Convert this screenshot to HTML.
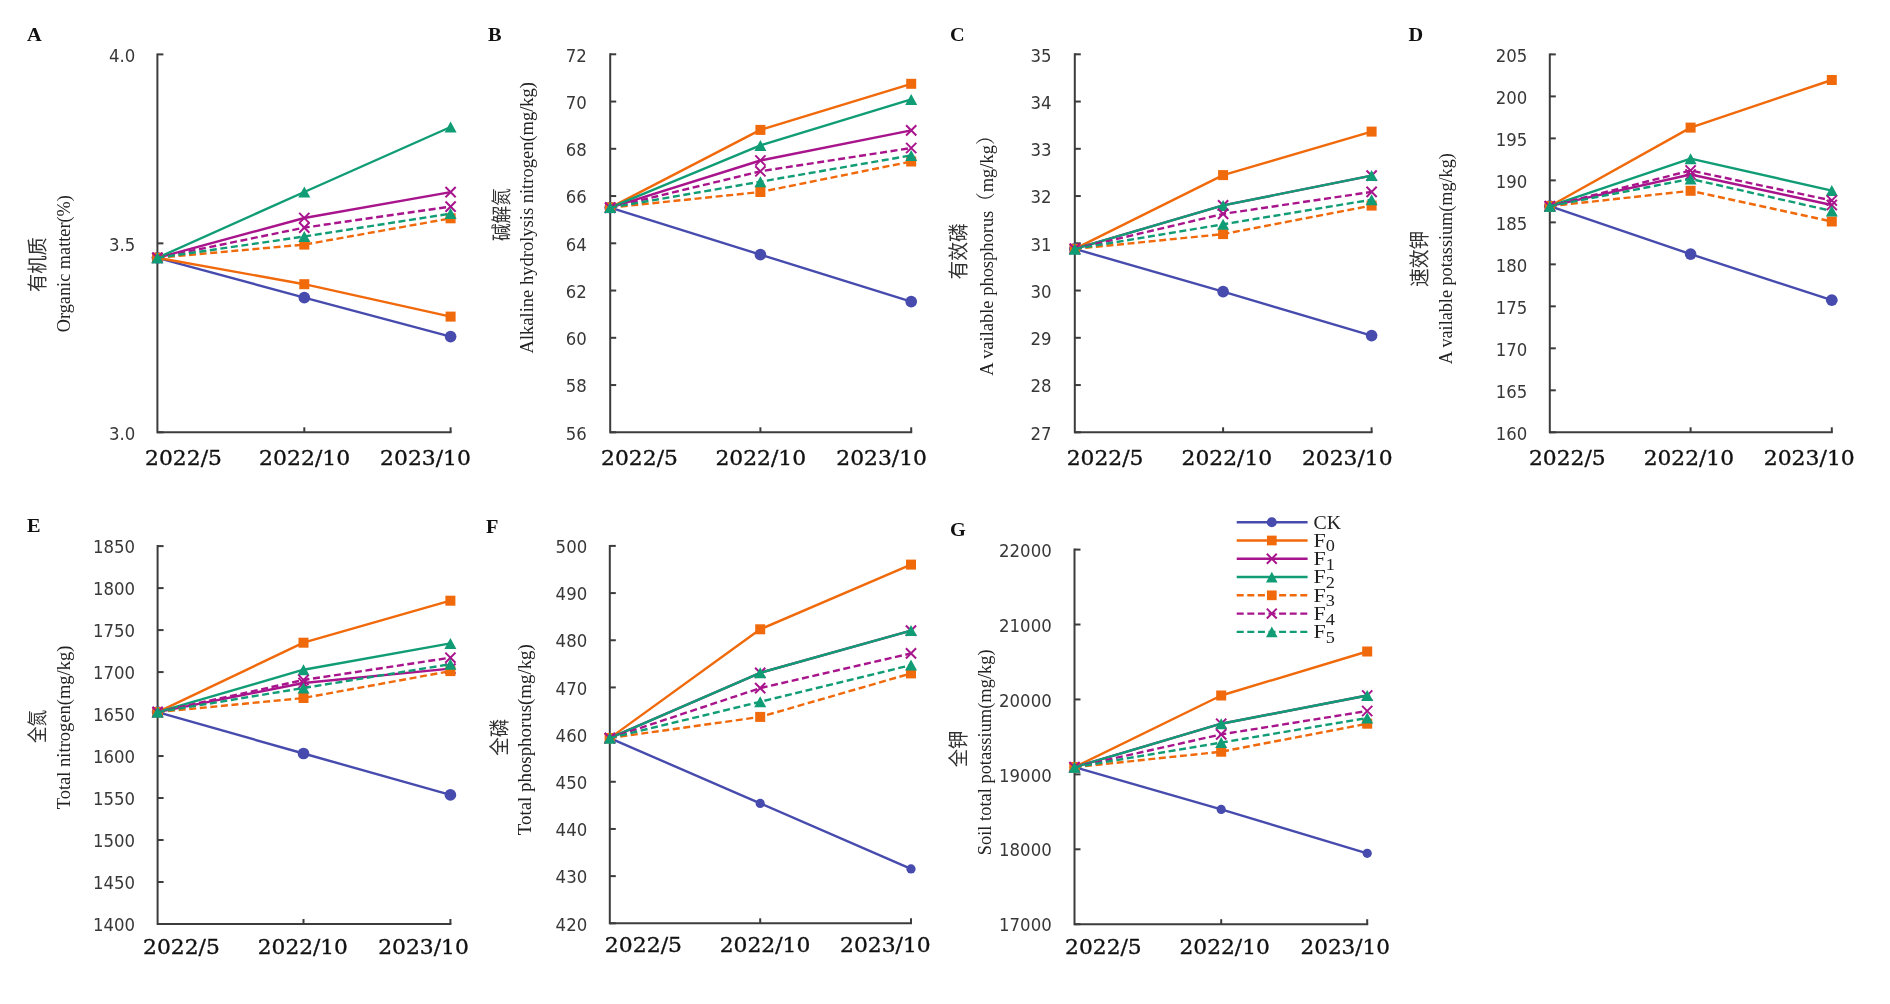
<!DOCTYPE html>
<html><head><meta charset="utf-8"><title>Soil nutrients</title>
<style>html,body{margin:0;padding:0;background:#fff;}svg{display:block;filter:blur(0.45px);}.tk{font-family:"DejaVu Sans","Liberation Sans",sans-serif;font-size:17.6px;fill:#383838;}.xl{font-family:"DejaVu Serif","Liberation Serif",serif;font-size:20.8px;fill:#111;stroke:#111;stroke-width:0.35px;}.pl{font-family:"Liberation Serif","Times New Roman",serif;font-size:18px;font-weight:bold;fill:#111;}.en{font-family:"Liberation Serif","Noto Serif CJK SC",serif;font-size:19.5px;fill:#222;}.cn{font-family:"Liberation Sans","Noto Sans CJK SC",sans-serif;font-size:20.5px;fill:#333;}.lg{font-family:"Liberation Serif","Times New Roman",serif;font-size:19.2px;fill:#222;}</style></head><body>
<svg width="1890" height="1004" viewBox="0 0 1890 1004">
<rect width="1890" height="1004" fill="#fff"/>
<g id="pA"><path d="M157.4 432.3H451.6" stroke="#3c3c3c" stroke-width="2" fill="none"/><path d="M157.4 53.4V433.3" stroke="#3c3c3c" stroke-width="2" fill="none"/><path d="M157.4 432.3h6" stroke="#3c3c3c" stroke-width="2"/><text class="tk" transform="translate(135.2 439.5) scale(0.94 1)" text-anchor="end">3.0</text><path d="M157.4 243.35h6" stroke="#3c3c3c" stroke-width="2"/><text class="tk" transform="translate(135.2 250.55) scale(0.94 1)" text-anchor="end">3.5</text><path d="M157.4 54.4h6" stroke="#3c3c3c" stroke-width="2"/><text class="tk" transform="translate(135.2 61.6) scale(0.94 1)" text-anchor="end">4.0</text><path d="M304.3 432.3v-5" stroke="#3c3c3c" stroke-width="2"/><path d="M450.6 432.3v-5" stroke="#3c3c3c" stroke-width="2"/><text class="xl" x="145.1" y="464.6" textLength="76.8" lengthAdjust="spacingAndGlyphs">2022/5</text><text class="xl" x="259.1" y="464.6" textLength="91.1" lengthAdjust="spacingAndGlyphs">2022/10</text><text class="xl" x="380.1" y="464.6" textLength="90.8" lengthAdjust="spacingAndGlyphs">2023/10</text><text class="pl" transform="translate(27 41.2) scale(1.13 1)">A</text><text class="cn" transform="translate(45 264.65) rotate(-90)" text-anchor="middle" textLength="54.7" lengthAdjust="spacingAndGlyphs">有机质</text><text class="en" transform="translate(70.1 263.7) rotate(-90)" text-anchor="middle" textLength="137.2" lengthAdjust="spacingAndGlyphs">Organic matter(%)</text><path d="M157.4 257.8L304.3 297.6L450.6 336.6" stroke="#464bad" stroke-width="2.4" fill="none" stroke-linejoin="round"/><circle cx="157.4" cy="257.8" r="5.85" fill="#464bad"/><circle cx="304.3" cy="297.6" r="5.85" fill="#464bad"/><circle cx="450.6" cy="336.6" r="5.85" fill="#464bad"/><path d="M157.4 257.8L304.3 284.2L450.6 316.6" stroke="#f0690a" stroke-width="2.4" fill="none" stroke-linejoin="round"/><rect x="152.4" y="252.8" width="10" height="10" fill="#f0690a"/><rect x="299.3" y="279.2" width="10" height="10" fill="#f0690a"/><rect x="445.6" y="311.6" width="10" height="10" fill="#f0690a"/><path d="M157.4 257.8L304.3 218L450.6 192.1" stroke="#a8148c" stroke-width="2.4" fill="none" stroke-linejoin="round"/><path d="M152.3 252.7L162.5 262.9M152.3 262.9L162.5 252.7" stroke="#a8148c" stroke-width="2.0" fill="none"/><path d="M299.2 212.9L309.4 223.1M299.2 223.1L309.4 212.9" stroke="#a8148c" stroke-width="2.0" fill="none"/><path d="M445.5 187L455.7 197.2M445.5 197.2L455.7 187" stroke="#a8148c" stroke-width="2.0" fill="none"/><path d="M157.4 257.8L304.3 192L450.6 127" stroke="#109c74" stroke-width="2.4" fill="none" stroke-linejoin="round"/><path d="M157.4 252.3L163.4 263.3L151.4 263.3Z" fill="#109c74"/><path d="M304.3 186.5L310.3 197.5L298.3 197.5Z" fill="#109c74"/><path d="M450.6 121.5L456.6 132.5L444.6 132.5Z" fill="#109c74"/><path d="M157.4 257.8L304.3 244.6L450.6 218.3" stroke="#f0690a" stroke-width="2.4" fill="none" stroke-linejoin="round" stroke-dasharray="7 3.6"/><rect x="152.4" y="252.8" width="10" height="10" fill="#f0690a"/><rect x="299.3" y="239.6" width="10" height="10" fill="#f0690a"/><rect x="445.6" y="213.3" width="10" height="10" fill="#f0690a"/><path d="M157.4 257.8L304.3 227.6L450.6 206.6" stroke="#a8148c" stroke-width="2.4" fill="none" stroke-linejoin="round" stroke-dasharray="7 3.6"/><path d="M152.3 252.7L162.5 262.9M152.3 262.9L162.5 252.7" stroke="#a8148c" stroke-width="2.0" fill="none"/><path d="M299.2 222.5L309.4 232.7M299.2 232.7L309.4 222.5" stroke="#a8148c" stroke-width="2.0" fill="none"/><path d="M445.5 201.5L455.7 211.7M445.5 211.7L455.7 201.5" stroke="#a8148c" stroke-width="2.0" fill="none"/><path d="M157.4 257.8L304.3 236.5L450.6 213.6" stroke="#109c74" stroke-width="2.4" fill="none" stroke-linejoin="round" stroke-dasharray="7 3.6"/><path d="M157.4 252.3L163.4 263.3L151.4 263.3Z" fill="#109c74"/><path d="M304.3 231L310.3 242L298.3 242Z" fill="#109c74"/><path d="M450.6 208.1L456.6 219.1L444.6 219.1Z" fill="#109c74"/></g>
<g id="pB"><path d="M610.2 432.3H912.2" stroke="#3c3c3c" stroke-width="2" fill="none"/><path d="M610.2 53.3V433.3" stroke="#3c3c3c" stroke-width="2" fill="none"/><path d="M610.2 432.3h6" stroke="#3c3c3c" stroke-width="2"/><text class="tk" transform="translate(586.7 439.5) scale(0.94 1)" text-anchor="end">56</text><path d="M610.2 385.05h6" stroke="#3c3c3c" stroke-width="2"/><text class="tk" transform="translate(586.7 392.25) scale(0.94 1)" text-anchor="end">58</text><path d="M610.2 337.8h6" stroke="#3c3c3c" stroke-width="2"/><text class="tk" transform="translate(586.7 345) scale(0.94 1)" text-anchor="end">60</text><path d="M610.2 290.55h6" stroke="#3c3c3c" stroke-width="2"/><text class="tk" transform="translate(586.7 297.75) scale(0.94 1)" text-anchor="end">62</text><path d="M610.2 243.3h6" stroke="#3c3c3c" stroke-width="2"/><text class="tk" transform="translate(586.7 250.5) scale(0.94 1)" text-anchor="end">64</text><path d="M610.2 196.05h6" stroke="#3c3c3c" stroke-width="2"/><text class="tk" transform="translate(586.7 203.25) scale(0.94 1)" text-anchor="end">66</text><path d="M610.2 148.8h6" stroke="#3c3c3c" stroke-width="2"/><text class="tk" transform="translate(586.7 156) scale(0.94 1)" text-anchor="end">68</text><path d="M610.2 101.55h6" stroke="#3c3c3c" stroke-width="2"/><text class="tk" transform="translate(586.7 108.75) scale(0.94 1)" text-anchor="end">70</text><path d="M610.2 54.3h6" stroke="#3c3c3c" stroke-width="2"/><text class="tk" transform="translate(586.7 61.5) scale(0.94 1)" text-anchor="end">72</text><path d="M760.4 432.3v-5" stroke="#3c3c3c" stroke-width="2"/><path d="M911.2 432.3v-5" stroke="#3c3c3c" stroke-width="2"/><text class="xl" x="601.1" y="464.6" textLength="76.8" lengthAdjust="spacingAndGlyphs">2022/5</text><text class="xl" x="715.4" y="464.6" textLength="90.7" lengthAdjust="spacingAndGlyphs">2022/10</text><text class="xl" x="836.3" y="464.6" textLength="90.7" lengthAdjust="spacingAndGlyphs">2023/10</text><text class="pl" transform="translate(488 41) scale(1.13 1)">B</text><text class="cn" transform="translate(508.7 214.6) rotate(-90)" text-anchor="middle" textLength="53" lengthAdjust="spacingAndGlyphs">碱解氮</text><text class="en" transform="translate(533.4 217.7) rotate(-90)" text-anchor="middle" textLength="271.4" lengthAdjust="spacingAndGlyphs">Alkaline hydrolysis nitrogen(mg/kg)</text><path d="M610.2 207.6L760.4 254.7L911.2 301.6" stroke="#464bad" stroke-width="2.4" fill="none" stroke-linejoin="round"/><circle cx="610.2" cy="207.6" r="5.85" fill="#464bad"/><circle cx="760.4" cy="254.7" r="5.85" fill="#464bad"/><circle cx="911.2" cy="301.6" r="5.85" fill="#464bad"/><path d="M610.2 207.6L760.4 129.9L911.2 83.8" stroke="#f0690a" stroke-width="2.4" fill="none" stroke-linejoin="round"/><rect x="605.2" y="202.6" width="10" height="10" fill="#f0690a"/><rect x="755.4" y="124.9" width="10" height="10" fill="#f0690a"/><rect x="906.2" y="78.8" width="10" height="10" fill="#f0690a"/><path d="M610.2 207.6L760.4 160.5L911.2 130.4" stroke="#a8148c" stroke-width="2.4" fill="none" stroke-linejoin="round"/><path d="M605.1 202.5L615.3 212.7M605.1 212.7L615.3 202.5" stroke="#a8148c" stroke-width="2.0" fill="none"/><path d="M755.3 155.4L765.5 165.6M755.3 165.6L765.5 155.4" stroke="#a8148c" stroke-width="2.0" fill="none"/><path d="M906.1 125.3L916.3 135.5M906.1 135.5L916.3 125.3" stroke="#a8148c" stroke-width="2.0" fill="none"/><path d="M610.2 207.6L760.4 145.4L911.2 99.4" stroke="#109c74" stroke-width="2.4" fill="none" stroke-linejoin="round"/><path d="M610.2 202.1L616.2 213.1L604.2 213.1Z" fill="#109c74"/><path d="M760.4 139.9L766.4 150.9L754.4 150.9Z" fill="#109c74"/><path d="M911.2 93.9L917.2 104.9L905.2 104.9Z" fill="#109c74"/><path d="M610.2 207.6L760.4 192L911.2 161.5" stroke="#f0690a" stroke-width="2.4" fill="none" stroke-linejoin="round" stroke-dasharray="7 3.6"/><rect x="605.2" y="202.6" width="10" height="10" fill="#f0690a"/><rect x="755.4" y="187" width="10" height="10" fill="#f0690a"/><rect x="906.2" y="156.5" width="10" height="10" fill="#f0690a"/><path d="M610.2 207.6L760.4 171.3L911.2 148" stroke="#a8148c" stroke-width="2.4" fill="none" stroke-linejoin="round" stroke-dasharray="7 3.6"/><path d="M605.1 202.5L615.3 212.7M605.1 212.7L615.3 202.5" stroke="#a8148c" stroke-width="2.0" fill="none"/><path d="M755.3 166.2L765.5 176.4M755.3 176.4L765.5 166.2" stroke="#a8148c" stroke-width="2.0" fill="none"/><path d="M906.1 142.9L916.3 153.1M906.1 153.1L916.3 142.9" stroke="#a8148c" stroke-width="2.0" fill="none"/><path d="M610.2 207.6L760.4 181.7L911.2 155.4" stroke="#109c74" stroke-width="2.4" fill="none" stroke-linejoin="round" stroke-dasharray="7 3.6"/><path d="M610.2 202.1L616.2 213.1L604.2 213.1Z" fill="#109c74"/><path d="M760.4 176.2L766.4 187.2L754.4 187.2Z" fill="#109c74"/><path d="M911.2 149.9L917.2 160.9L905.2 160.9Z" fill="#109c74"/></g>
<g id="pC"><path d="M1074.8 432.3H1372.6" stroke="#3c3c3c" stroke-width="2" fill="none"/><path d="M1074.8 53.3V433.3" stroke="#3c3c3c" stroke-width="2" fill="none"/><path d="M1074.8 432.3h6" stroke="#3c3c3c" stroke-width="2"/><text class="tk" transform="translate(1051.5 439.5) scale(0.94 1)" text-anchor="end">27</text><path d="M1074.8 385.05h6" stroke="#3c3c3c" stroke-width="2"/><text class="tk" transform="translate(1051.5 392.25) scale(0.94 1)" text-anchor="end">28</text><path d="M1074.8 337.8h6" stroke="#3c3c3c" stroke-width="2"/><text class="tk" transform="translate(1051.5 345) scale(0.94 1)" text-anchor="end">29</text><path d="M1074.8 290.55h6" stroke="#3c3c3c" stroke-width="2"/><text class="tk" transform="translate(1051.5 297.75) scale(0.94 1)" text-anchor="end">30</text><path d="M1074.8 243.3h6" stroke="#3c3c3c" stroke-width="2"/><text class="tk" transform="translate(1051.5 250.5) scale(0.94 1)" text-anchor="end">31</text><path d="M1074.8 196.05h6" stroke="#3c3c3c" stroke-width="2"/><text class="tk" transform="translate(1051.5 203.25) scale(0.94 1)" text-anchor="end">32</text><path d="M1074.8 148.8h6" stroke="#3c3c3c" stroke-width="2"/><text class="tk" transform="translate(1051.5 156) scale(0.94 1)" text-anchor="end">33</text><path d="M1074.8 101.55h6" stroke="#3c3c3c" stroke-width="2"/><text class="tk" transform="translate(1051.5 108.75) scale(0.94 1)" text-anchor="end">34</text><path d="M1074.8 54.3h6" stroke="#3c3c3c" stroke-width="2"/><text class="tk" transform="translate(1051.5 61.5) scale(0.94 1)" text-anchor="end">35</text><path d="M1223.1 432.3v-5" stroke="#3c3c3c" stroke-width="2"/><path d="M1371.6 432.3v-5" stroke="#3c3c3c" stroke-width="2"/><text class="xl" x="1066.7" y="464.6" textLength="76.8" lengthAdjust="spacingAndGlyphs">2022/5</text><text class="xl" x="1181.5" y="464.6" textLength="90.7" lengthAdjust="spacingAndGlyphs">2022/10</text><text class="xl" x="1301.9" y="464.6" textLength="90.7" lengthAdjust="spacingAndGlyphs">2023/10</text><text class="pl" transform="translate(949.9 41) scale(1.13 1)">C</text><text class="cn" transform="translate(966.1 251.45) rotate(-90)" text-anchor="middle" textLength="56.3" lengthAdjust="spacingAndGlyphs">有效磷</text><text class="en" transform="translate(993.2 251.2) rotate(-90)" text-anchor="middle" textLength="249.2" lengthAdjust="spacingAndGlyphs">A vailable phosphorus（mg/kg）</text><path d="M1074.8 248.9L1223.1 291.6L1371.6 335.6" stroke="#464bad" stroke-width="2.4" fill="none" stroke-linejoin="round"/><circle cx="1074.8" cy="248.9" r="5.85" fill="#464bad"/><circle cx="1223.1" cy="291.6" r="5.85" fill="#464bad"/><circle cx="1371.6" cy="335.6" r="5.85" fill="#464bad"/><path d="M1074.8 248.9L1223.1 175.1L1371.6 131.6" stroke="#f0690a" stroke-width="2.4" fill="none" stroke-linejoin="round"/><rect x="1069.8" y="243.9" width="10" height="10" fill="#f0690a"/><rect x="1218.1" y="170.1" width="10" height="10" fill="#f0690a"/><rect x="1366.6" y="126.6" width="10" height="10" fill="#f0690a"/><path d="M1074.8 248.9L1223.1 205.4L1371.6 175.6" stroke="#a8148c" stroke-width="2.4" fill="none" stroke-linejoin="round"/><path d="M1069.7 243.8L1079.9 254M1069.7 254L1079.9 243.8" stroke="#a8148c" stroke-width="2.0" fill="none"/><path d="M1218 200.3L1228.2 210.5M1218 210.5L1228.2 200.3" stroke="#a8148c" stroke-width="2.0" fill="none"/><path d="M1366.5 170.5L1376.7 180.7M1366.5 180.7L1376.7 170.5" stroke="#a8148c" stroke-width="2.0" fill="none"/><path d="M1074.8 248.9L1223.1 205.4L1371.6 175.6" stroke="#109c74" stroke-width="2.4" fill="none" stroke-linejoin="round"/><path d="M1074.8 243.4L1080.8 254.4L1068.8 254.4Z" fill="#109c74"/><path d="M1223.1 199.9L1229.1 210.9L1217.1 210.9Z" fill="#109c74"/><path d="M1371.6 170.1L1377.6 181.1L1365.6 181.1Z" fill="#109c74"/><path d="M1074.8 248.9L1223.1 234.1L1371.6 205.6" stroke="#f0690a" stroke-width="2.4" fill="none" stroke-linejoin="round" stroke-dasharray="7 3.6"/><rect x="1069.8" y="243.9" width="10" height="10" fill="#f0690a"/><rect x="1218.1" y="229.1" width="10" height="10" fill="#f0690a"/><rect x="1366.6" y="200.6" width="10" height="10" fill="#f0690a"/><path d="M1074.8 248.9L1223.1 213.9L1371.6 191.9" stroke="#a8148c" stroke-width="2.4" fill="none" stroke-linejoin="round" stroke-dasharray="7 3.6"/><path d="M1069.7 243.8L1079.9 254M1069.7 254L1079.9 243.8" stroke="#a8148c" stroke-width="2.0" fill="none"/><path d="M1218 208.8L1228.2 219M1218 219L1228.2 208.8" stroke="#a8148c" stroke-width="2.0" fill="none"/><path d="M1366.5 186.8L1376.7 197M1366.5 197L1376.7 186.8" stroke="#a8148c" stroke-width="2.0" fill="none"/><path d="M1074.8 248.9L1223.1 224.3L1371.6 199.7" stroke="#109c74" stroke-width="2.4" fill="none" stroke-linejoin="round" stroke-dasharray="7 3.6"/><path d="M1074.8 243.4L1080.8 254.4L1068.8 254.4Z" fill="#109c74"/><path d="M1223.1 218.8L1229.1 229.8L1217.1 229.8Z" fill="#109c74"/><path d="M1371.6 194.2L1377.6 205.2L1365.6 205.2Z" fill="#109c74"/></g>
<g id="pD"><path d="M1549.8 432.3H1832.8" stroke="#3c3c3c" stroke-width="2" fill="none"/><path d="M1549.8 53.4V433.3" stroke="#3c3c3c" stroke-width="2" fill="none"/><path d="M1549.8 432.3h6" stroke="#3c3c3c" stroke-width="2"/><text class="tk" transform="translate(1527.3 439.5) scale(0.94 1)" text-anchor="end">160</text><path d="M1549.8 390.31h6" stroke="#3c3c3c" stroke-width="2"/><text class="tk" transform="translate(1527.3 397.51) scale(0.94 1)" text-anchor="end">165</text><path d="M1549.8 348.32h6" stroke="#3c3c3c" stroke-width="2"/><text class="tk" transform="translate(1527.3 355.52) scale(0.94 1)" text-anchor="end">170</text><path d="M1549.8 306.33h6" stroke="#3c3c3c" stroke-width="2"/><text class="tk" transform="translate(1527.3 313.53) scale(0.94 1)" text-anchor="end">175</text><path d="M1549.8 264.34h6" stroke="#3c3c3c" stroke-width="2"/><text class="tk" transform="translate(1527.3 271.54) scale(0.94 1)" text-anchor="end">180</text><path d="M1549.8 222.36h6" stroke="#3c3c3c" stroke-width="2"/><text class="tk" transform="translate(1527.3 229.56) scale(0.94 1)" text-anchor="end">185</text><path d="M1549.8 180.37h6" stroke="#3c3c3c" stroke-width="2"/><text class="tk" transform="translate(1527.3 187.57) scale(0.94 1)" text-anchor="end">190</text><path d="M1549.8 138.38h6" stroke="#3c3c3c" stroke-width="2"/><text class="tk" transform="translate(1527.3 145.58) scale(0.94 1)" text-anchor="end">195</text><path d="M1549.8 96.39h6" stroke="#3c3c3c" stroke-width="2"/><text class="tk" transform="translate(1527.3 103.59) scale(0.94 1)" text-anchor="end">200</text><path d="M1549.8 54.4h6" stroke="#3c3c3c" stroke-width="2"/><text class="tk" transform="translate(1527.3 61.6) scale(0.94 1)" text-anchor="end">205</text><path d="M1690.6 432.3v-5" stroke="#3c3c3c" stroke-width="2"/><path d="M1831.8 432.3v-5" stroke="#3c3c3c" stroke-width="2"/><text class="xl" x="1528.9" y="464.6" textLength="76.8" lengthAdjust="spacingAndGlyphs">2022/5</text><text class="xl" x="1643.7" y="464.6" textLength="90.3" lengthAdjust="spacingAndGlyphs">2022/10</text><text class="xl" x="1763.7" y="464.6" textLength="91.1" lengthAdjust="spacingAndGlyphs">2023/10</text><text class="pl" transform="translate(1408.5 41.2) scale(1.13 1)">D</text><text class="cn" transform="translate(1426.5 258.8) rotate(-90)" text-anchor="middle" textLength="56.4" lengthAdjust="spacingAndGlyphs">速效钾</text><text class="en" transform="translate(1451.9 258.7) rotate(-90)" text-anchor="middle" textLength="211" lengthAdjust="spacingAndGlyphs">A vailable potassium(mg/kg)</text><path d="M1549.8 206.2L1690.6 254.1L1831.8 300.2" stroke="#464bad" stroke-width="2.4" fill="none" stroke-linejoin="round"/><circle cx="1549.8" cy="206.2" r="5.85" fill="#464bad"/><circle cx="1690.6" cy="254.1" r="5.85" fill="#464bad"/><circle cx="1831.8" cy="300.2" r="5.85" fill="#464bad"/><path d="M1549.8 206.2L1690.6 127.6L1831.8 80" stroke="#f0690a" stroke-width="2.4" fill="none" stroke-linejoin="round"/><rect x="1544.8" y="201.2" width="10" height="10" fill="#f0690a"/><rect x="1685.6" y="122.6" width="10" height="10" fill="#f0690a"/><rect x="1826.8" y="75" width="10" height="10" fill="#f0690a"/><path d="M1549.8 206.2L1690.6 174.5L1831.8 205" stroke="#a8148c" stroke-width="2.4" fill="none" stroke-linejoin="round"/><path d="M1544.7 201.1L1554.9 211.3M1544.7 211.3L1554.9 201.1" stroke="#a8148c" stroke-width="2.0" fill="none"/><path d="M1685.5 169.4L1695.7 179.6M1685.5 179.6L1695.7 169.4" stroke="#a8148c" stroke-width="2.0" fill="none"/><path d="M1826.7 199.9L1836.9 210.1M1826.7 210.1L1836.9 199.9" stroke="#a8148c" stroke-width="2.0" fill="none"/><path d="M1549.8 206.2L1690.6 158.7L1831.8 190.6" stroke="#109c74" stroke-width="2.4" fill="none" stroke-linejoin="round"/><path d="M1549.8 200.7L1555.8 211.7L1543.8 211.7Z" fill="#109c74"/><path d="M1690.6 153.2L1696.6 164.2L1684.6 164.2Z" fill="#109c74"/><path d="M1831.8 185.1L1837.8 196.1L1825.8 196.1Z" fill="#109c74"/><path d="M1549.8 206.2L1690.6 190.8L1831.8 221.5" stroke="#f0690a" stroke-width="2.4" fill="none" stroke-linejoin="round" stroke-dasharray="7 3.6"/><rect x="1544.8" y="201.2" width="10" height="10" fill="#f0690a"/><rect x="1685.6" y="185.8" width="10" height="10" fill="#f0690a"/><rect x="1826.8" y="216.5" width="10" height="10" fill="#f0690a"/><path d="M1549.8 206.2L1690.6 170.5L1831.8 200.5" stroke="#a8148c" stroke-width="2.4" fill="none" stroke-linejoin="round" stroke-dasharray="7 3.6"/><path d="M1544.7 201.1L1554.9 211.3M1544.7 211.3L1554.9 201.1" stroke="#a8148c" stroke-width="2.0" fill="none"/><path d="M1685.5 165.4L1695.7 175.6M1685.5 175.6L1695.7 165.4" stroke="#a8148c" stroke-width="2.0" fill="none"/><path d="M1826.7 195.4L1836.9 205.6M1826.7 205.6L1836.9 195.4" stroke="#a8148c" stroke-width="2.0" fill="none"/><path d="M1549.8 206.2L1690.6 178.9L1831.8 211" stroke="#109c74" stroke-width="2.4" fill="none" stroke-linejoin="round" stroke-dasharray="7 3.6"/><path d="M1549.8 200.7L1555.8 211.7L1543.8 211.7Z" fill="#109c74"/><path d="M1690.6 173.4L1696.6 184.4L1684.6 184.4Z" fill="#109c74"/><path d="M1831.8 205.5L1837.8 216.5L1825.8 216.5Z" fill="#109c74"/></g>
<g id="pE"><path d="M157.6 924H451.4" stroke="#3c3c3c" stroke-width="2" fill="none"/><path d="M157.6 545.1V925" stroke="#3c3c3c" stroke-width="2" fill="none"/><path d="M157.6 924h6" stroke="#3c3c3c" stroke-width="2"/><text class="tk" transform="translate(135 931.2) scale(0.94 1)" text-anchor="end">1400</text><path d="M157.6 882.01h6" stroke="#3c3c3c" stroke-width="2"/><text class="tk" transform="translate(135 889.21) scale(0.94 1)" text-anchor="end">1450</text><path d="M157.6 840.02h6" stroke="#3c3c3c" stroke-width="2"/><text class="tk" transform="translate(135 847.22) scale(0.94 1)" text-anchor="end">1500</text><path d="M157.6 798.03h6" stroke="#3c3c3c" stroke-width="2"/><text class="tk" transform="translate(135 805.23) scale(0.94 1)" text-anchor="end">1550</text><path d="M157.6 756.04h6" stroke="#3c3c3c" stroke-width="2"/><text class="tk" transform="translate(135 763.24) scale(0.94 1)" text-anchor="end">1600</text><path d="M157.6 714.06h6" stroke="#3c3c3c" stroke-width="2"/><text class="tk" transform="translate(135 721.26) scale(0.94 1)" text-anchor="end">1650</text><path d="M157.6 672.07h6" stroke="#3c3c3c" stroke-width="2"/><text class="tk" transform="translate(135 679.27) scale(0.94 1)" text-anchor="end">1700</text><path d="M157.6 630.08h6" stroke="#3c3c3c" stroke-width="2"/><text class="tk" transform="translate(135 637.28) scale(0.94 1)" text-anchor="end">1750</text><path d="M157.6 588.09h6" stroke="#3c3c3c" stroke-width="2"/><text class="tk" transform="translate(135 595.29) scale(0.94 1)" text-anchor="end">1800</text><path d="M157.6 546.1h6" stroke="#3c3c3c" stroke-width="2"/><text class="tk" transform="translate(135 553.3) scale(0.94 1)" text-anchor="end">1850</text><path d="M303.5 924v-5" stroke="#3c3c3c" stroke-width="2"/><path d="M450.4 924v-5" stroke="#3c3c3c" stroke-width="2"/><text class="xl" x="143" y="953.9" textLength="76.8" lengthAdjust="spacingAndGlyphs">2022/5</text><text class="xl" x="257.8" y="953.9" textLength="90.1" lengthAdjust="spacingAndGlyphs">2022/10</text><text class="xl" x="378.2" y="953.9" textLength="90.7" lengthAdjust="spacingAndGlyphs">2023/10</text><text class="pl" transform="translate(27.1 532.3) scale(1.13 1)">E</text><text class="cn" transform="translate(45 726.5) rotate(-90)" text-anchor="middle" textLength="33" lengthAdjust="spacingAndGlyphs">全氮</text><text class="en" transform="translate(70.2 727.45) rotate(-90)" text-anchor="middle" textLength="163.7" lengthAdjust="spacingAndGlyphs">Total nitrogen(mg/kg)</text><path d="M157.6 712.1L303.5 753.5L450.4 794.9" stroke="#464bad" stroke-width="2.4" fill="none" stroke-linejoin="round"/><circle cx="157.6" cy="712.1" r="5.85" fill="#464bad"/><circle cx="303.5" cy="753.5" r="5.85" fill="#464bad"/><circle cx="450.4" cy="794.9" r="5.85" fill="#464bad"/><path d="M157.6 712.1L303.5 642.7L450.4 600.7" stroke="#f0690a" stroke-width="2.4" fill="none" stroke-linejoin="round"/><rect x="152.6" y="707.1" width="10" height="10" fill="#f0690a"/><rect x="298.5" y="637.7" width="10" height="10" fill="#f0690a"/><rect x="445.4" y="595.7" width="10" height="10" fill="#f0690a"/><path d="M157.6 712.1L303.5 683L450.4 668.6" stroke="#a8148c" stroke-width="2.4" fill="none" stroke-linejoin="round"/><path d="M152.5 707L162.7 717.2M152.5 717.2L162.7 707" stroke="#a8148c" stroke-width="2.0" fill="none"/><path d="M298.4 677.9L308.6 688.1M298.4 688.1L308.6 677.9" stroke="#a8148c" stroke-width="2.0" fill="none"/><path d="M445.3 663.5L455.5 673.7M445.3 673.7L455.5 663.5" stroke="#a8148c" stroke-width="2.0" fill="none"/><path d="M157.6 712.1L303.5 669.7L450.4 643.4" stroke="#109c74" stroke-width="2.4" fill="none" stroke-linejoin="round"/><path d="M157.6 706.6L163.6 717.6L151.6 717.6Z" fill="#109c74"/><path d="M303.5 664.2L309.5 675.2L297.5 675.2Z" fill="#109c74"/><path d="M450.4 637.9L456.4 648.9L444.4 648.9Z" fill="#109c74"/><path d="M157.6 712.1L303.5 698L450.4 671.1" stroke="#f0690a" stroke-width="2.4" fill="none" stroke-linejoin="round" stroke-dasharray="7 3.6"/><rect x="152.6" y="707.1" width="10" height="10" fill="#f0690a"/><rect x="298.5" y="693" width="10" height="10" fill="#f0690a"/><rect x="445.4" y="666.1" width="10" height="10" fill="#f0690a"/><path d="M157.6 712.1L303.5 680L450.4 657.7" stroke="#a8148c" stroke-width="2.4" fill="none" stroke-linejoin="round" stroke-dasharray="7 3.6"/><path d="M152.5 707L162.7 717.2M152.5 717.2L162.7 707" stroke="#a8148c" stroke-width="2.0" fill="none"/><path d="M298.4 674.9L308.6 685.1M298.4 685.1L308.6 674.9" stroke="#a8148c" stroke-width="2.0" fill="none"/><path d="M445.3 652.6L455.5 662.8M445.3 662.8L455.5 652.6" stroke="#a8148c" stroke-width="2.0" fill="none"/><path d="M157.6 712.1L303.5 688L450.4 664.2" stroke="#109c74" stroke-width="2.4" fill="none" stroke-linejoin="round" stroke-dasharray="7 3.6"/><path d="M157.6 706.6L163.6 717.6L151.6 717.6Z" fill="#109c74"/><path d="M303.5 682.5L309.5 693.5L297.5 693.5Z" fill="#109c74"/><path d="M450.4 658.7L456.4 669.7L444.4 669.7Z" fill="#109c74"/></g>
<g id="pF"><path d="M609.8 923.3H912" stroke="#3c3c3c" stroke-width="2" fill="none"/><path d="M609.8 544.9V924.3" stroke="#3c3c3c" stroke-width="2" fill="none"/><path d="M609.8 923.3h6" stroke="#3c3c3c" stroke-width="2"/><text class="tk" transform="translate(587.2 930.5) scale(0.94 1)" text-anchor="end">420</text><path d="M609.8 876.12h6" stroke="#3c3c3c" stroke-width="2"/><text class="tk" transform="translate(587.2 883.33) scale(0.94 1)" text-anchor="end">430</text><path d="M609.8 828.95h6" stroke="#3c3c3c" stroke-width="2"/><text class="tk" transform="translate(587.2 836.15) scale(0.94 1)" text-anchor="end">440</text><path d="M609.8 781.77h6" stroke="#3c3c3c" stroke-width="2"/><text class="tk" transform="translate(587.2 788.98) scale(0.94 1)" text-anchor="end">450</text><path d="M609.8 734.6h6" stroke="#3c3c3c" stroke-width="2"/><text class="tk" transform="translate(587.2 741.8) scale(0.94 1)" text-anchor="end">460</text><path d="M609.8 687.42h6" stroke="#3c3c3c" stroke-width="2"/><text class="tk" transform="translate(587.2 694.62) scale(0.94 1)" text-anchor="end">470</text><path d="M609.8 640.25h6" stroke="#3c3c3c" stroke-width="2"/><text class="tk" transform="translate(587.2 647.45) scale(0.94 1)" text-anchor="end">480</text><path d="M609.8 593.08h6" stroke="#3c3c3c" stroke-width="2"/><text class="tk" transform="translate(587.2 600.28) scale(0.94 1)" text-anchor="end">490</text><path d="M609.8 545.9h6" stroke="#3c3c3c" stroke-width="2"/><text class="tk" transform="translate(587.2 553.1) scale(0.94 1)" text-anchor="end">500</text><path d="M760.2 923.3v-5" stroke="#3c3c3c" stroke-width="2"/><path d="M911 923.3v-5" stroke="#3c3c3c" stroke-width="2"/><text class="xl" x="604.8" y="951.9" textLength="77.2" lengthAdjust="spacingAndGlyphs">2022/5</text><text class="xl" x="719.7" y="951.9" textLength="90.6" lengthAdjust="spacingAndGlyphs">2022/10</text><text class="xl" x="840" y="951.9" textLength="90.7" lengthAdjust="spacingAndGlyphs">2023/10</text><text class="pl" transform="translate(486.1 532.5) scale(1.13 1)">F</text><text class="cn" transform="translate(506.5 737.35) rotate(-90)" text-anchor="middle" textLength="36.7" lengthAdjust="spacingAndGlyphs">全磷</text><text class="en" transform="translate(530.8 739.7) rotate(-90)" text-anchor="middle" textLength="191" lengthAdjust="spacingAndGlyphs">Total phosphorus(mg/kg)</text><path d="M609.8 738.1L760.2 803.4L911 868.9" stroke="#464bad" stroke-width="2.4" fill="none" stroke-linejoin="round"/><circle cx="609.8" cy="738.1" r="4.62" fill="#464bad"/><circle cx="760.2" cy="803.4" r="4.62" fill="#464bad"/><circle cx="911" cy="868.9" r="4.62" fill="#464bad"/><path d="M609.8 738.1L760.2 629.3L911 564.6" stroke="#f0690a" stroke-width="2.4" fill="none" stroke-linejoin="round"/><rect x="604.8" y="733.1" width="10" height="10" fill="#f0690a"/><rect x="755.2" y="624.3" width="10" height="10" fill="#f0690a"/><rect x="906" y="559.6" width="10" height="10" fill="#f0690a"/><path d="M609.8 738.1L760.2 672.8L911 630.6" stroke="#a8148c" stroke-width="2.4" fill="none" stroke-linejoin="round"/><path d="M604.7 733L614.9 743.2M604.7 743.2L614.9 733" stroke="#a8148c" stroke-width="2.0" fill="none"/><path d="M755.1 667.7L765.3 677.9M755.1 677.9L765.3 667.7" stroke="#a8148c" stroke-width="2.0" fill="none"/><path d="M905.9 625.5L916.1 635.7M905.9 635.7L916.1 625.5" stroke="#a8148c" stroke-width="2.0" fill="none"/><path d="M609.8 738.1L760.2 672.8L911 630.6" stroke="#109c74" stroke-width="2.4" fill="none" stroke-linejoin="round"/><path d="M609.8 732.6L615.8 743.6L603.8 743.6Z" fill="#109c74"/><path d="M760.2 667.3L766.2 678.3L754.2 678.3Z" fill="#109c74"/><path d="M911 625.1L917 636.1L905 636.1Z" fill="#109c74"/><path d="M609.8 738.1L760.2 716.9L911 673.4" stroke="#f0690a" stroke-width="2.4" fill="none" stroke-linejoin="round" stroke-dasharray="7 3.6"/><rect x="604.8" y="733.1" width="10" height="10" fill="#f0690a"/><rect x="755.2" y="711.9" width="10" height="10" fill="#f0690a"/><rect x="906" y="668.4" width="10" height="10" fill="#f0690a"/><path d="M609.8 738.1L760.2 688.1L911 653.4" stroke="#a8148c" stroke-width="2.4" fill="none" stroke-linejoin="round" stroke-dasharray="7 3.6"/><path d="M604.7 733L614.9 743.2M604.7 743.2L614.9 733" stroke="#a8148c" stroke-width="2.0" fill="none"/><path d="M755.1 683L765.3 693.2M755.1 693.2L765.3 683" stroke="#a8148c" stroke-width="2.0" fill="none"/><path d="M905.9 648.3L916.1 658.5M905.9 658.5L916.1 648.3" stroke="#a8148c" stroke-width="2.0" fill="none"/><path d="M609.8 738.1L760.2 701.8L911 665.1" stroke="#109c74" stroke-width="2.4" fill="none" stroke-linejoin="round" stroke-dasharray="7 3.6"/><path d="M609.8 732.6L615.8 743.6L603.8 743.6Z" fill="#109c74"/><path d="M760.2 696.3L766.2 707.3L754.2 707.3Z" fill="#109c74"/><path d="M911 659.6L917 670.6L905 670.6Z" fill="#109c74"/></g>
<g id="pG"><path d="M1074.5 924.2H1368.2" stroke="#3c3c3c" stroke-width="2" fill="none"/><path d="M1074.5 548.6V925.2" stroke="#3c3c3c" stroke-width="2" fill="none"/><path d="M1074.5 924.2h6" stroke="#3c3c3c" stroke-width="2"/><text class="tk" transform="translate(1051.7 931.4) scale(0.94 1)" text-anchor="end">17000</text><path d="M1074.5 849.28h6" stroke="#3c3c3c" stroke-width="2"/><text class="tk" transform="translate(1051.7 856.48) scale(0.94 1)" text-anchor="end">18000</text><path d="M1074.5 774.36h6" stroke="#3c3c3c" stroke-width="2"/><text class="tk" transform="translate(1051.7 781.56) scale(0.94 1)" text-anchor="end">19000</text><path d="M1074.5 699.44h6" stroke="#3c3c3c" stroke-width="2"/><text class="tk" transform="translate(1051.7 706.64) scale(0.94 1)" text-anchor="end">20000</text><path d="M1074.5 624.52h6" stroke="#3c3c3c" stroke-width="2"/><text class="tk" transform="translate(1051.7 631.72) scale(0.94 1)" text-anchor="end">21000</text><path d="M1074.5 549.6h6" stroke="#3c3c3c" stroke-width="2"/><text class="tk" transform="translate(1051.7 556.8) scale(0.94 1)" text-anchor="end">22000</text><path d="M1221.2 924.2v-5" stroke="#3c3c3c" stroke-width="2"/><path d="M1367.2 924.2v-5" stroke="#3c3c3c" stroke-width="2"/><text class="xl" x="1065.1" y="953.9" textLength="76.6" lengthAdjust="spacingAndGlyphs">2022/5</text><text class="xl" x="1179.5" y="953.9" textLength="90.4" lengthAdjust="spacingAndGlyphs">2022/10</text><text class="xl" x="1300.5" y="953.9" textLength="89.4" lengthAdjust="spacingAndGlyphs">2023/10</text><text class="pl" transform="translate(950 535.8) scale(1.13 1)">G</text><text class="cn" transform="translate(965.8 749) rotate(-90)" text-anchor="middle" textLength="36.6" lengthAdjust="spacingAndGlyphs">全钾</text><text class="en" transform="translate(990.8 752.35) rotate(-90)" text-anchor="middle" textLength="205.9" lengthAdjust="spacingAndGlyphs">Soil total potassium(mg/kg)</text><path d="M1074.5 767.2L1221.2 809.4L1367.2 853.3" stroke="#464bad" stroke-width="2.4" fill="none" stroke-linejoin="round"/><circle cx="1074.5" cy="767.2" r="4.62" fill="#464bad"/><circle cx="1221.2" cy="809.4" r="4.62" fill="#464bad"/><circle cx="1367.2" cy="853.3" r="4.62" fill="#464bad"/><path d="M1074.5 767.2L1221.2 695.5L1367.2 651.5" stroke="#f0690a" stroke-width="2.4" fill="none" stroke-linejoin="round"/><rect x="1069.5" y="762.2" width="10" height="10" fill="#f0690a"/><rect x="1216.2" y="690.5" width="10" height="10" fill="#f0690a"/><rect x="1362.2" y="646.5" width="10" height="10" fill="#f0690a"/><path d="M1074.5 767.2L1221.2 723.7L1367.2 695.5" stroke="#a8148c" stroke-width="2.4" fill="none" stroke-linejoin="round"/><path d="M1069.4 762.1L1079.6 772.3M1069.4 772.3L1079.6 762.1" stroke="#a8148c" stroke-width="2.0" fill="none"/><path d="M1216.1 718.6L1226.3 728.8M1216.1 728.8L1226.3 718.6" stroke="#a8148c" stroke-width="2.0" fill="none"/><path d="M1362.1 690.4L1372.3 700.6M1362.1 700.6L1372.3 690.4" stroke="#a8148c" stroke-width="2.0" fill="none"/><path d="M1074.5 767.2L1221.2 723.7L1367.2 695.5" stroke="#109c74" stroke-width="2.4" fill="none" stroke-linejoin="round"/><path d="M1074.5 761.7L1080.5 772.7L1068.5 772.7Z" fill="#109c74"/><path d="M1221.2 718.2L1227.2 729.2L1215.2 729.2Z" fill="#109c74"/><path d="M1367.2 690L1373.2 701L1361.2 701Z" fill="#109c74"/><path d="M1074.5 767.2L1221.2 751.7L1367.2 723.7" stroke="#f0690a" stroke-width="2.4" fill="none" stroke-linejoin="round" stroke-dasharray="7 3.6"/><rect x="1069.5" y="762.2" width="10" height="10" fill="#f0690a"/><rect x="1216.2" y="746.7" width="10" height="10" fill="#f0690a"/><rect x="1362.2" y="718.7" width="10" height="10" fill="#f0690a"/><path d="M1074.5 767.2L1221.2 734.4L1367.2 711" stroke="#a8148c" stroke-width="2.4" fill="none" stroke-linejoin="round" stroke-dasharray="7 3.6"/><path d="M1069.4 762.1L1079.6 772.3M1069.4 772.3L1079.6 762.1" stroke="#a8148c" stroke-width="2.0" fill="none"/><path d="M1216.1 729.3L1226.3 739.5M1216.1 739.5L1226.3 729.3" stroke="#a8148c" stroke-width="2.0" fill="none"/><path d="M1362.1 705.9L1372.3 716.1M1362.1 716.1L1372.3 705.9" stroke="#a8148c" stroke-width="2.0" fill="none"/><path d="M1074.5 767.2L1221.2 742.6L1367.2 718" stroke="#109c74" stroke-width="2.4" fill="none" stroke-linejoin="round" stroke-dasharray="7 3.6"/><path d="M1074.5 761.7L1080.5 772.7L1068.5 772.7Z" fill="#109c74"/><path d="M1221.2 737.1L1227.2 748.1L1215.2 748.1Z" fill="#109c74"/><path d="M1367.2 712.5L1373.2 723.5L1361.2 723.5Z" fill="#109c74"/></g>
<g id="legend"><path d="M1236.7 522.2H1307.6" stroke="#464bad" stroke-width="2.4"/><circle cx="1271.8" cy="522.2" r="5.03" fill="#464bad"/><text class="lg" x="1313.5" y="528.6" textLength="27.5" lengthAdjust="spacingAndGlyphs">CK</text><path d="M1236.7 540.48H1307.6" stroke="#f0690a" stroke-width="2.4"/><rect x="1266.95" y="535.63" width="9.7" height="9.7" fill="#f0690a"/><text class="lg" transform="translate(1313.5 546.88) scale(1.14 1)">F<tspan dy="4.6" font-size="16px">0</tspan></text><path d="M1236.7 558.76H1307.6" stroke="#a8148c" stroke-width="2.4"/><path d="M1266.85 553.81L1276.75 563.71M1266.85 563.71L1276.75 553.81" stroke="#a8148c" stroke-width="2.0" fill="none"/><text class="lg" transform="translate(1313.5 565.16) scale(1.14 1)">F<tspan dy="4.6" font-size="16px">1</tspan></text><path d="M1236.7 577.04H1307.6" stroke="#109c74" stroke-width="2.4"/><path d="M1271.8 571.71L1277.62 582.38L1265.98 582.38Z" fill="#109c74"/><text class="lg" transform="translate(1313.5 583.44) scale(1.14 1)">F<tspan dy="4.6" font-size="16px">2</tspan></text><path d="M1236.7 595.32H1307.6" stroke="#f0690a" stroke-width="2.4" stroke-dasharray="7 3.6" stroke-dashoffset="0"/><rect x="1266.95" y="590.47" width="9.7" height="9.7" fill="#f0690a"/><text class="lg" transform="translate(1313.5 601.72) scale(1.14 1)">F<tspan dy="4.6" font-size="16px">3</tspan></text><path d="M1236.7 613.6H1307.6" stroke="#a8148c" stroke-width="2.4" stroke-dasharray="7 3.6" stroke-dashoffset="0"/><path d="M1266.85 608.65L1276.75 618.55M1266.85 618.55L1276.75 608.65" stroke="#a8148c" stroke-width="2.0" fill="none"/><text class="lg" transform="translate(1313.5 620) scale(1.14 1)">F<tspan dy="4.6" font-size="16px">4</tspan></text><path d="M1236.7 631.88H1307.6" stroke="#109c74" stroke-width="2.4" stroke-dasharray="7 3.6" stroke-dashoffset="0"/><path d="M1271.8 626.55L1277.62 637.22L1265.98 637.22Z" fill="#109c74"/><text class="lg" transform="translate(1313.5 638.28) scale(1.14 1)">F<tspan dy="4.6" font-size="16px">5</tspan></text></g>
</svg></body></html>
